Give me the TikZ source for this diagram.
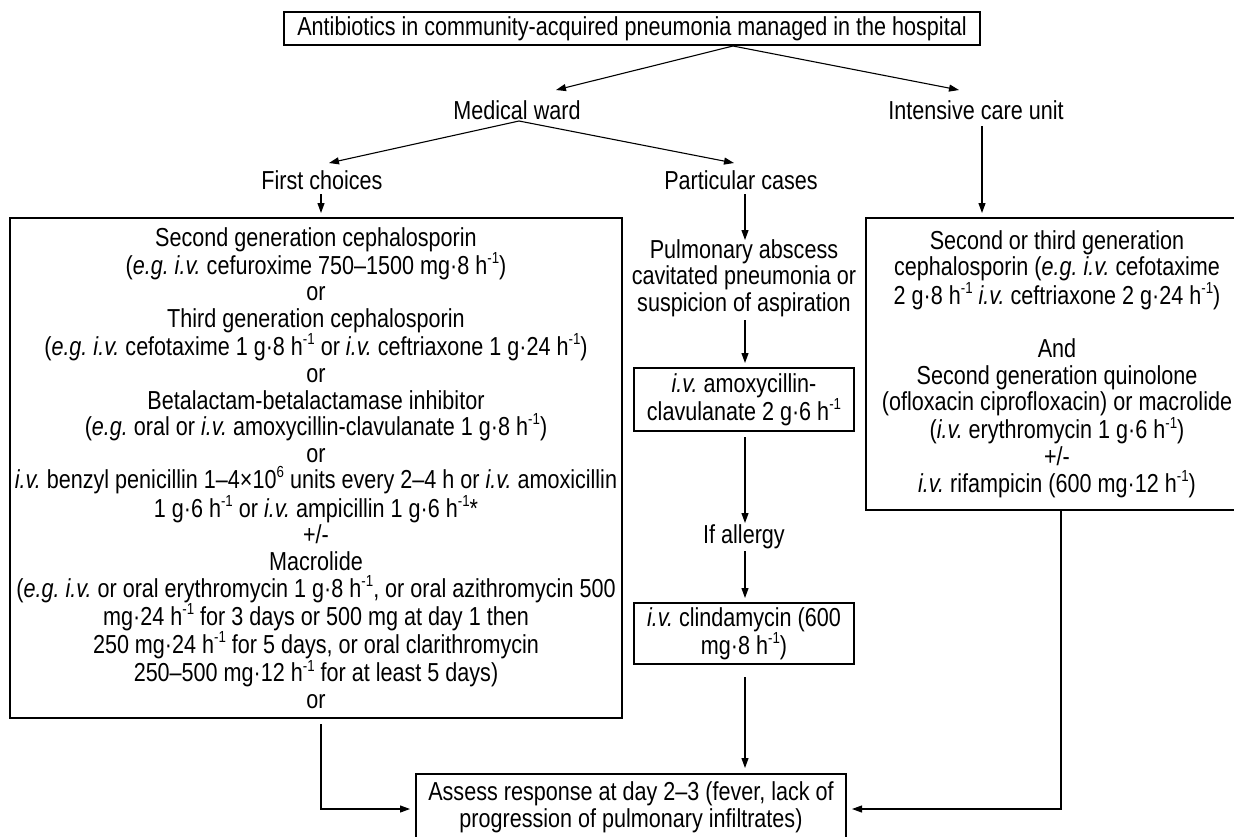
\documentclass[tikz,border=0pt]{standalone}
\usepackage{fontspec}
\setmainfont{Liberation Sans}[FakeStretch=0.83]
\usetikzlibrary{arrows.meta}
\frenchspacing
\newcommand\supx[1]{\raisebox{0.42em}{\fontsize{16}{16}\selectfont #1}}
\newcommand\fsz{\fontsize{26}{26.6}\selectfont}
\begin{document}
\begin{tikzpicture}[x=1pt,y=-1pt,
  every node/.style={font=\fsz, inner sep=0pt, align=center},
  box/.style={draw, line width=1.2pt},
  arr/.style={-{Triangle[length=10pt,width=7pt]}, line width=1.1pt},
  link/.style={line width=1.1pt}]
\useasboundingbox (0,0) rectangle (1234,836);

% nodes
\node[box, minimum width=696, minimum height=33] (top) at (632,28.5)
  {Antibiotics in community-acquired pneumonia managed in the hospital};
\node (mw) at (517,110) {Medical ward};
\node (icu) at (976,110) {Intensive care unit};
\node (fc) at (322,180) {First choices};
\node (pc) at (741,180) {Particular cases};

\node[box, minimum width=612, minimum height=500] (big) at (316,468) {%
Second generation cephalosporin\\
(\textit{e.g. i.v.} cefuroxime 750–1500 mg·8 h\supx{-1})\\
or\\
Third generation cephalosporin\\
(\textit{e.g. i.v.} cefotaxime 1 g·8 h\supx{-1} or \textit{i.v.} ceftriaxone 1 g·24 h\supx{-1})\\
or\\
Betalactam-betalactamase inhibitor\\
(\textit{e.g.} oral or \textit{i.v.} amoxycillin-clavulanate 1 g·8 h\supx{-1})\\
or\\
\textit{i.v.} benzyl penicillin 1–4×10\supx{6} units every 2–4 h or \textit{i.v.} amoxicillin\\
1 g·6 h\supx{-1} or \textit{i.v.} ampicillin 1 g·6 h\supx{-1}*\\
+/-\\
Macrolide\\
(\textit{e.g. i.v.} or oral erythromycin 1 g·8 h\supx{-1}, or oral azithromycin 500\\
mg·24 h\supx{-1} for 3 days or 500 mg at day 1 then\\
250 mg·24 h\supx{-1} for 5 days, or oral clarithromycin\\
250–500 mg·12 h\supx{-1} for at least 5 days)\\
or};

\node (pulm) at (744,278) {Pulmonary abscess\\ cavitated pneumonia or\\ suspicion of aspiration};
\node[box, minimum width=220, minimum height=63] (amox) at (744,399.5)
  {\textit{i.v.} amoxycillin-\\ clavulanate 2 g·6 h\supx{-1}};
\node (allergy) at (744,537) {If allergy};
\node[box, minimum width=220, minimum height=61] (clinda) at (744,633.5)
  {\textit{i.v.} clindamycin (600\\ mg·8 h\supx{-1})};
\node[box, minimum width=430, minimum height=66] (assess) at (631,807)
  {Assess response at day 2–3 (fever, lack of\\ progression of pulmonary infiltrates)};

\node[box, minimum width=382, minimum height=292] (icubox) at (1057,364) {%
Second or third generation\\
cephalosporin (\textit{e.g. i.v.} cefotaxime\\
2 g·8 h\supx{-1} \textit{i.v.} ceftriaxone 2 g·24 h\supx{-1})\\[26.6pt]
And\\
Second generation quinolone\\
(ofloxacin ciprofloxacin) or macrolide\\
(\textit{i.v.} erythromycin 1 g·6 h\supx{-1})\\
+/-\\
\textit{i.v.} rifampicin (600 mg·12 h\supx{-1})};

% connector points
\coordinate (o1) at (733,46);
\coordinate (mwin) at (556,90);
\coordinate (icuin) at (959,90);
\coordinate (o2) at (519,121);
\coordinate (fcin) at (329,163);
\coordinate (pcin) at (734,163);
\coordinate (fcout) at (321,194);
\coordinate (bigin) at (321,213);
\coordinate (pcout) at (745,194);
\coordinate (pulmin) at (745,240);
\coordinate (pulmout) at (745,320);
\coordinate (amoxin) at (745,363);
\coordinate (amoxout) at (745,437);
\coordinate (allin) at (745,523);
\coordinate (allout) at (745,551);
\coordinate (clinin) at (745,598);
\coordinate (clinout) at (745,677);
\coordinate (assin) at (745,768);
\coordinate (icuout) at (982,126);
\coordinate (icuboxin) at (982,213);
\coordinate (bigout) at (321,724);
\coordinate (lcorner) at (321,809);
\coordinate (assl) at (410,809);
\coordinate (icuboxout) at (1061,510);
\coordinate (rcorner) at (1061,809);
\coordinate (assr) at (852,809);

% connectors
\draw[arr] (o1) -- (mwin);
\draw[arr] (o1) -- (icuin);
\draw[arr] (o2) -- (fcin);
\draw[arr] (o2) -- (pcin);
\draw[arr] (fcout) -- (bigin);
\draw[arr] (pcout) -- (pulmin);
\draw[arr] (pulmout) -- (amoxin);
\draw[arr] (amoxout) -- (allin);
\draw[arr] (allout) -- (clinin);
\draw[arr] (clinout) -- (assin);
\draw[arr] (icuout) -- (icuboxin);
\draw[arr] (bigout) -- (lcorner) -- (assl);
\draw[arr] (icuboxout) -- (rcorner) -- (assr);
\end{tikzpicture}
\end{document}
